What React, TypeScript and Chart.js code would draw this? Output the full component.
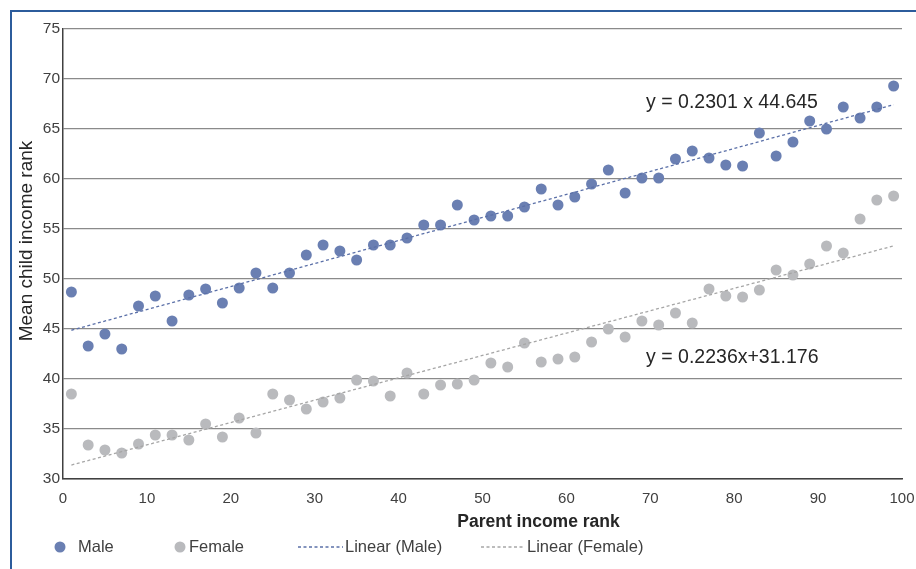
import React, { useEffect, useRef } from 'react';
import { Chart, registerables } from 'chart.js';

Chart.register(...registerables);

const parentRank = [1, 3, 5, 7, 9, 11, 13, 15, 17, 19, 21, 23, 25, 27, 29, 31, 33, 35, 37, 39, 41, 43, 45, 47, 49, 51, 53, 55, 57, 59, 61, 63, 65, 67, 69, 71, 73, 75, 77, 79, 81, 83, 85, 87, 89, 91, 93, 95, 97, 99];
const maleRank = [48.7, 43.3, 44.5, 43.0, 47.3, 48.3, 45.8, 48.4, 49.0, 47.6, 49.1, 50.6, 49.1, 50.6, 52.4, 53.4, 52.8, 51.9, 53.4, 53.4, 54.1, 55.4, 55.4, 57.4, 55.9, 56.3, 56.3, 57.2, 59.0, 57.4, 58.2, 59.5, 60.9, 58.6, 60.1, 60.1, 62.0, 62.8, 62.1, 61.4, 61.3, 64.6, 62.3, 63.7, 65.8, 65.0, 67.2, 66.1, 67.2, 69.3];
const femaleRank = [38.5, 33.4, 32.9, 32.6, 33.5, 34.4, 34.4, 33.9, 35.5, 34.2, 36.1, 34.6, 38.5, 37.9, 37.0, 37.7, 38.1, 39.9, 39.8, 38.3, 40.6, 38.5, 39.4, 39.5, 39.9, 41.6, 41.2, 43.6, 41.7, 42.0, 42.2, 43.7, 45.0, 44.2, 45.8, 45.4, 46.6, 45.6, 49.0, 48.3, 48.2, 48.9, 50.9, 50.4, 51.5, 53.3, 52.6, 56.0, 57.9, 58.3];

const maleSlope = 0.2301;
const maleIntercept = 44.645;
const femaleSlope = 0.2236;
const femaleIntercept = 31.176;

const xTicks = [0, 10, 20, 30, 40, 50, 60, 70, 80, 90, 100];
const yTicks = [30, 35, 40, 45, 50, 55, 60, 65, 70, 75];

const seriesLabels = ['Male', 'Female', 'Linear (Male)', 'Linear (Female)'];
const maleEquation = 'y = 0.2301 x 44.645';
const femaleEquation = 'y = 0.2236x+31.176';
const xTitle = 'Parent income rank';
const yTitle = 'Mean child income rank';

const FONT = '"Liberation Sans", Arial, sans-serif';
const MALE_COLOR = '#6a7fb2';
const FEMALE_COLOR = '#b9babd';
const MALE_LINE = '#5b70a8';
const FEMALE_LINE = '#a6a6a6';
const TEXT = '#404040';

const extrasPlugin = {
  id: 'extras',
  afterDraw(chart: any) {
    const ctx = chart.ctx as CanvasRenderingContext2D;
    const { top, bottom, left, right } = chart.chartArea;
    const xs = chart.scales.x;
    const ys = chart.scales.y;
    ctx.save();

    // Y axis title
    ctx.save();
    ctx.translate(27, (top + bottom) / 2 - 13);
    ctx.rotate(-Math.PI / 2);
    ctx.font = `19px ${FONT}`;
    ctx.fillStyle = '#262626';
    ctx.textAlign = 'center';
    ctx.textBaseline = 'middle';
    ctx.fillText(yTitle, 0, 0);
    ctx.restore();

    // X axis title
    ctx.font = `bold 17.5px ${FONT}`;
    ctx.fillStyle = '#262626';
    ctx.textAlign = 'center';
    ctx.textBaseline = 'middle';
    ctx.fillText(xTitle, (left + right) / 2 + 56, 522);

    // Equations
    ctx.font = `19.5px ${FONT}`;
    ctx.fillStyle = '#262626';
    ctx.textAlign = 'left';
    ctx.textBaseline = 'middle';
    ctx.fillText(maleEquation, xs.getPixelForValue(69.5), ys.getPixelForValue(67.6));
    ctx.fillText(femaleEquation, xs.getPixelForValue(69.5), ys.getPixelForValue(42.1));

    // Legend
    const ly = 547;
    ctx.font = `16.5px ${FONT}`;
    ctx.fillStyle = TEXT;
    ctx.textBaseline = 'middle';
    const ds = chart.data.datasets;
    ctx.beginPath();
    ctx.fillStyle = ds[0].backgroundColor;
    ctx.arc(60, ly, 5.5, 0, Math.PI * 2);
    ctx.fill();
    ctx.fillStyle = TEXT;
    ctx.fillText(ds[0].label, 78, ly);
    ctx.beginPath();
    ctx.fillStyle = ds[1].backgroundColor;
    ctx.arc(180, ly, 5.5, 0, Math.PI * 2);
    ctx.fill();
    ctx.fillStyle = TEXT;
    ctx.fillText(ds[1].label, 189, ly);
    const drawLine = (d: any, x0: number, x1: number) => {
      ctx.save();
      ctx.beginPath();
      ctx.strokeStyle = d.borderColor;
      ctx.lineWidth = d.borderWidth;
      ctx.setLineDash(d.borderDash);
      ctx.moveTo(x0, ly);
      ctx.lineTo(x1, ly);
      ctx.stroke();
      ctx.restore();
    };
    drawLine(ds[2], 298, 343);
    ctx.fillText(ds[2].label, 345, ly);
    drawLine(ds[3], 481, 525);
    ctx.fillText(ds[3].label, 527, ly);

    ctx.restore();
  },
};

export default function App() {
  const canvasRef = useRef<HTMLCanvasElement | null>(null);

  useEffect(() => {
    if (!canvasRef.current) return;
    const trendX = [parentRank[0], parentRank[parentRank.length - 1]];
    const chart = new Chart(canvasRef.current, {
      type: 'scatter',
      data: {
        datasets: [
          {
            label: seriesLabels[0],
            data: parentRank.map((x, i) => ({ x, y: maleRank[i] })),
            backgroundColor: MALE_COLOR,
            borderColor: MALE_COLOR,
            borderWidth: 0,
            pointRadius: 5.5,
            pointHoverRadius: 5.5,
            order: 2,
          },
          {
            label: seriesLabels[1],
            data: parentRank.map((x, i) => ({ x, y: femaleRank[i] })),
            backgroundColor: FEMALE_COLOR,
            borderColor: FEMALE_COLOR,
            borderWidth: 0,
            pointRadius: 5.5,
            pointHoverRadius: 5.5,
            order: 2,
          },
          {
            type: 'line',
            label: seriesLabels[2],
            data: trendX.map((x) => ({ x, y: maleSlope * x + maleIntercept })),
            borderColor: MALE_LINE,
            backgroundColor: MALE_LINE,
            borderWidth: 1.3,
            borderDash: [3, 2.5],
            pointRadius: 0,
            fill: false,
            order: 1,
          },
          {
            type: 'line',
            label: seriesLabels[3],
            data: trendX.map((x) => ({ x, y: femaleSlope * x + femaleIntercept })),
            borderColor: FEMALE_LINE,
            backgroundColor: FEMALE_LINE,
            borderWidth: 1.3,
            borderDash: [3, 2.5],
            pointRadius: 0,
            fill: false,
            order: 1,
          },
        ] as any,
      },
      options: {
        responsive: true,
        maintainAspectRatio: false,
        animation: false,
        layout: { padding: { left: 0, right: 0, top: 29, bottom: 0 } },
        plugins: {
          legend: { display: false },
          tooltip: { enabled: false },
        },
        scales: {
          x: {
            type: 'linear',
            min: xTicks[0],
            max: xTicks[xTicks.length - 1],
            afterBuildTicks: (s: any) => {
              s.ticks = xTicks.map((v) => ({ value: v }));
            },
            ticks: { padding: 11, color: TEXT, font: { family: FONT, size: 15 } },
            grid: { display: false, drawTicks: false },
            border: { display: true, color: '#404040', width: 1.5 },
            afterFit: (s: any) => {
              s.height = 90;
              s.paddingRight = 14;
              s.paddingLeft = 0;
            },
          },
          y: {
            type: 'linear',
            min: yTicks[0],
            max: yTicks[yTicks.length - 1],
            afterBuildTicks: (s: any) => {
              s.ticks = yTicks.map((v) => ({ value: v }));
            },
            ticks: { padding: 3, color: TEXT, font: { family: FONT, size: 15.5 } },
            grid: { color: '#8a8a8a', lineWidth: 1.3, drawTicks: false },
            border: { display: true, color: '#404040', width: 1.5 },
            afterFit: (s: any) => {
              s.width = 63;
            },
          },
        },
      } as any,
      plugins: [extrasPlugin],
    });
    return () => chart.destroy();
  }, []);

  return (
    <div style={{ position: 'absolute', left: 0, top: 0, width: 916, height: 569, background: '#fff', overflow: 'hidden' }}>
      <div style={{ position: 'absolute', left: 0, top: 0, width: 916, height: 569 }}>
        <canvas ref={canvasRef} />
      </div>
      <div
        style={{
          position: 'absolute',
          left: 10,
          top: 10,
          right: 0,
          bottom: 0,
          borderTop: '2px solid #2c5c9c',
          borderLeft: '2px solid #2c5c9c',
          pointerEvents: 'none',
        }}
      />
    </div>
  );
}
